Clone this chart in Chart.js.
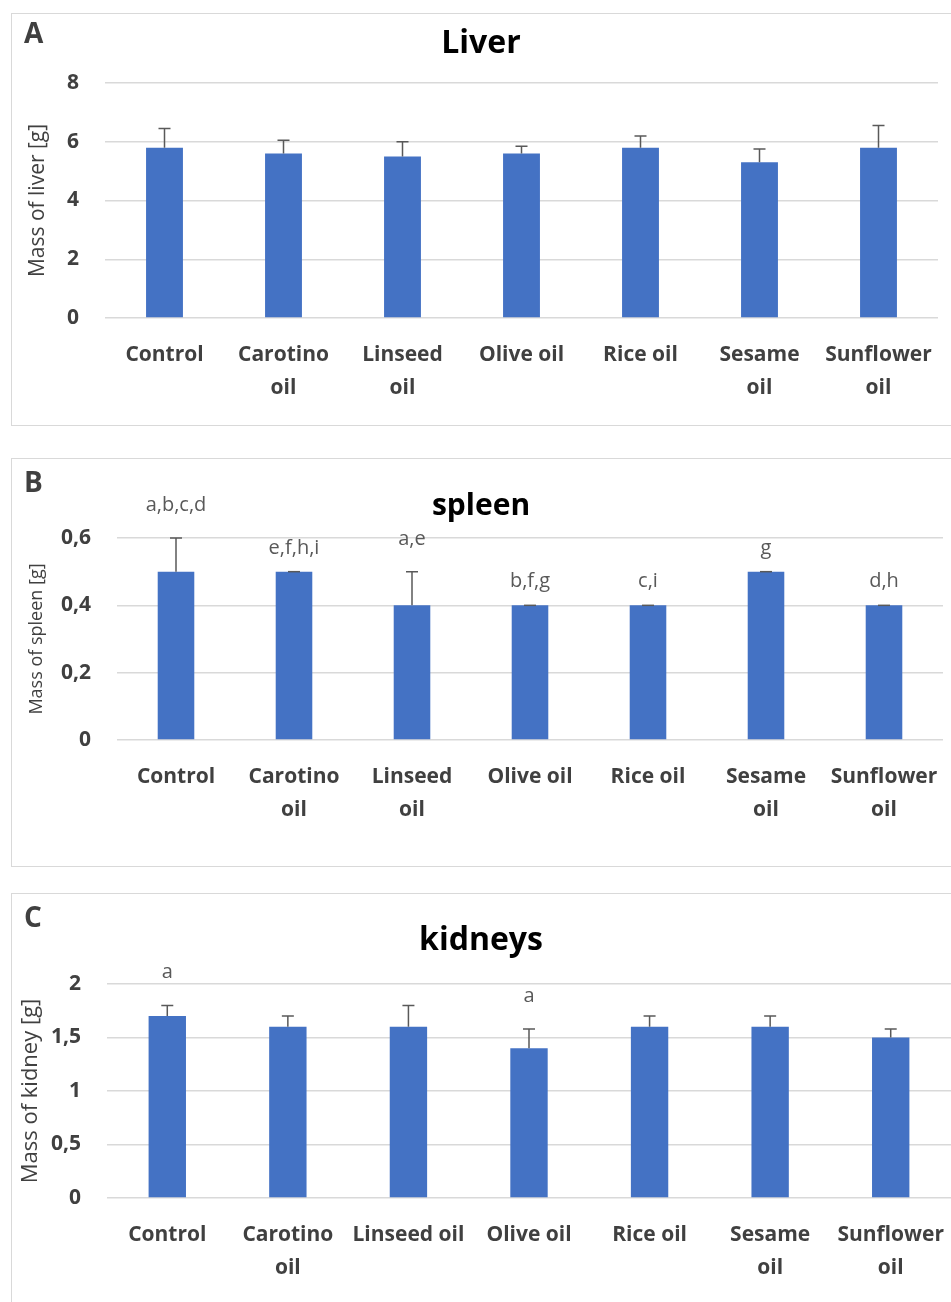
<!DOCTYPE html>
<html>
<head>
    <title>Organ mass by oil diet</title>
    <script src="https://cdn.jsdelivr.net/npm/chart.js"></script>
    <style>
        body {margin: 0; overflow: hidden; background: #fff; width: 951px; height: 1302px; position: relative;}
        .box {position: absolute; left: 11px; width: 960px; border: 1.5px solid #d9d9d9; box-sizing: border-box;}
        .wrap {position: absolute; left: 0; width: 951px;}
    </style>
</head>
<body>
    <div class="box" style="top:13px; height:413px"></div>
    <div class="box" style="top:458px; height:409px"></div>
    <div class="box" style="top:893px; height:430px"></div>

    <div class="wrap" style="top:0px; height:430px"><canvas id="liverChart"></canvas></div>
    <div class="wrap" style="top:450px; height:430px"><canvas id="spleenChart"></canvas></div>
    <div class="wrap" style="top:880px; height:422px"><canvas id="kidneyChart"></canvas></div>

    <script>
        // categories
        var oils = ['Control', ['Carotino', 'oil'], ['Linseed', 'oil'], 'Olive oil', 'Rice oil', ['Sesame', 'oil'], ['Sunflower', 'oil']];
        var oilsKidney = ['Control', ['Carotino', 'oil'], 'Linseed oil', 'Olive oil', 'Rice oil', ['Sesame', 'oil'], ['Sunflower', 'oil']];

        // A - liver
        var liverMass = [5.8, 5.6, 5.5, 5.6, 5.8, 5.3, 5.8];
        var liverSD = [0.65, 0.45, 0.5, 0.25, 0.4, 0.45, 0.75];
        var liverLetters = ['', '', '', '', '', '', ''];

        // B - spleen
        var spleenMass = [0.5, 0.5, 0.4, 0.4, 0.4, 0.5, 0.4];
        var spleenSD = [0.1, 0, 0.1, 0, 0, 0, 0];
        var spleenLetters = ['a,b,c,d', 'e,f,h,i', 'a,e', 'b,f,g', 'c,i', 'g', 'd,h'];

        // C - kidneys
        var kidneyMass = [1.7, 1.6, 1.6, 1.4, 1.6, 1.6, 1.5];
        var kidneySD = [0.1, 0.1, 0.2, 0.18, 0.1, 0.1, 0.08];
        var kidneyLetters = ['a', '', '', 'a', '', '', ''];

        var FONT = "'Open Sans', sans-serif";

        // error bars, significance letters, panel letter and title
        var errorBars = {
            id: 'errorBars',
            afterDatasetsDraw: function(chart, args, opts) {
                var ctx = chart.ctx;
                var y = chart.scales.y;
                var meta = chart.getDatasetMeta(0);
                var vals = chart.data.datasets[0].data;
                ctx.save();
                ctx.strokeStyle = '#595959';
                ctx.lineWidth = 1.5;
                meta.data.forEach(function(bar, i) {
                    var top = y.getPixelForValue(vals[i] + opts.sd[i]);
                    ctx.beginPath();
                    ctx.moveTo(bar.x, bar.y);
                    ctx.lineTo(bar.x, top);
                    ctx.moveTo(bar.x - 6, top);
                    ctx.lineTo(bar.x + 6, top);
                    ctx.stroke();
                    if (opts.letters[i]) {
                        ctx.fillStyle = '#595959';
                        ctx.font = '20px ' + FONT;
                        ctx.textAlign = 'center';
                        ctx.textBaseline = 'alphabetic';
                        ctx.fillText(opts.letters[i], bar.x, top - (opts.sd[i] > 0 ? 27 : 18));
                    }
                });
                ctx.fillStyle = '#000';
                ctx.textAlign = 'center';
                ctx.textBaseline = 'alphabetic';
                ctx.font = 'bold ' + opts.titleSize + 'px ' + FONT;
                ctx.fillText(opts.title, 481, opts.titleY);
                ctx.fillStyle = '#404040';
                ctx.textAlign = 'left';
                ctx.font = 'bold 28px ' + FONT;
                ctx.fillText(opts.tag, 24, opts.tagY);
                ctx.restore();
            }
        };

        function commaTick(v) {
            return String(+v.toFixed(1)).replace('.', ',');
        }

        function buildPanel(id, labels, values, sd, letters, cfg) {
            new Chart(document.getElementById(id), {
                type: 'bar',
                data: {
                    labels: labels,
                    datasets: [{
                        data: values,
                        backgroundColor: '#4472c4',
                        barPercentage: 0.31,
                        categoryPercentage: 1
                    }]
                },
                options: {
                    responsive: true,
                    maintainAspectRatio: false,
                    animation: false,
                    layout: {padding: {top: cfg.top, right: cfg.right, left: 0, bottom: 0}},
                    plugins: {
                        legend: {display: false},
                        tooltip: {enabled: false},
                        errorBars: {
                            sd: sd, letters: letters,
                            title: cfg.title, titleY: cfg.titleY, titleSize: cfg.titleSize,
                            tag: cfg.tag, tagY: cfg.tagY
                        }
                    },
                    scales: {
                        x: {
                            grid: {display: false, drawTicks: false},
                            border: {display: false},
                            ticks: {
                                color: '#404040', padding: 20, maxRotation: 0, autoSkip: false,
                                font: {family: FONT, size: 21, weight: 'bold', lineHeight: 1.6}
                            },
                            afterFit: function(s) {
                                s.height = cfg.height - cfg.bottom;
                                s.paddingLeft = 0;
                                s.paddingRight = 0;
                            }
                        },
                        y: {
                            min: 0,
                            max: cfg.max,
                            ticks: {
                                stepSize: cfg.step, padding: 26, color: '#404040',
                                font: {family: FONT, size: 21, weight: 'bold'},
                                callback: commaTick
                            },
                            grid: {color: '#d9d9d9', lineWidth: 1.5, drawTicks: false},
                            border: {display: false},
                            title: {
                                display: true, text: cfg.yTitle, color: '#404040',
                                padding: {top: cfg.yTitlePad, bottom: 0},
                                font: {family: FONT, size: cfg.yTitleSize}
                            },
                            afterFit: function(s) {
                                s.width = cfg.left;
                                s.paddingTop = 0;
                                s.paddingBottom = 0;
                            }
                        }
                    }
                },
                plugins: [errorBars]
            });
        }

        buildPanel('liverChart', oils, liverMass, liverSD, liverLetters, {
            height: 430, top: 83, bottom: 318, left: 105, right: 13,
            max: 8, step: 2, yTitle: 'Mass of liver [g]', yTitleSize: 21, yTitlePad: 25,
            title: 'Liver', titleY: 53, titleSize: 32, tag: 'A', tagY: 43
        });

        buildPanel('spleenChart', oils, spleenMass, spleenSD, spleenLetters, {
            height: 430, top: 88, bottom: 290, left: 117, right: 8,
            max: 0.6, step: 0.2, yTitle: 'Mass of spleen [g]', yTitleSize: 18, yTitlePad: 26,
            title: 'spleen', titleY: 65, titleSize: 30, tag: 'B', tagY: 42
        });

        buildPanel('kidneyChart', oilsKidney, kidneyMass, kidneySD, kidneyLetters, {
            height: 422, top: 104, bottom: 318, left: 107, right: 0,
            max: 2, step: 0.5, yTitle: 'Mass of kidney [g]', yTitleSize: 22, yTitlePad: 18,
            title: 'kidneys', titleY: 70, titleSize: 32, tag: 'C', tagY: 47
        });
    </script>
</body>
</html>
